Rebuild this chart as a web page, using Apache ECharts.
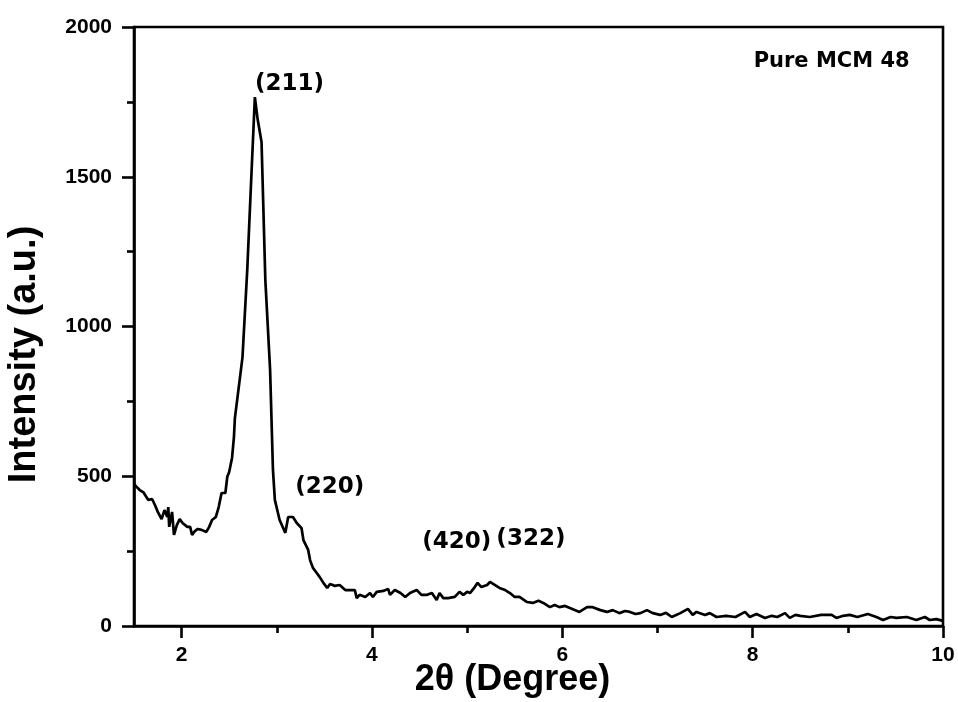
<!DOCTYPE html>
<html>
<head>
<meta charset="utf-8">
<script src="https://cdn.jsdelivr.net/npm/echarts@6/dist/echarts.min.js"></script>
<style>
  html, body { margin: 0; padding: 0; background: #fff; }
  #chart { width: 958px; height: 702px; }
</style>
</head>
<body>
<div id="chart"></div>
<script>
// XRD pattern of pure MCM-48: diffraction angle (2θ, degrees) and intensity (a.u.)
const twoTheta = [
  1.50, 1.52, 1.56, 1.60, 1.62, 1.65, 1.69, 1.72, 1.75, 1.79, 1.82, 1.85, 1.86, 1.87, 1.90, 1.92, 1.95, 1.98,
  2.01, 2.06, 2.09, 2.11, 2.14, 2.17, 2.21, 2.26, 2.29, 2.32, 2.36, 2.39, 2.42, 2.46, 2.48, 2.50, 2.53, 2.55,
  2.56, 2.58, 2.61, 2.64, 2.69, 2.73, 2.77, 2.80, 2.84, 2.88, 2.93, 2.96, 2.98,
  3.03, 3.09, 3.12, 3.17, 3.21, 3.23, 3.26, 3.28, 3.30, 3.33, 3.35, 3.38, 3.42, 3.45, 3.49, 3.53, 3.56, 3.61,
  3.66, 3.72, 3.77, 3.82, 3.84, 3.87, 3.93, 3.98,
  4.01, 4.05, 4.12, 4.17, 4.19, 4.24, 4.30, 4.35, 4.40, 4.47, 4.52, 4.58, 4.63, 4.68, 4.71, 4.75, 4.80, 4.87,
  4.92, 4.96, 5.00, 5.03, 5.08, 5.11, 5.15, 5.21, 5.24, 5.29, 5.34, 5.40, 5.45, 5.50, 5.55, 5.63, 5.69, 5.75,
  5.80, 5.87, 5.92, 5.97, 6.03, 6.08, 6.18, 6.26, 6.32, 6.40, 6.47, 6.53, 6.60, 6.66, 6.71, 6.77, 6.82, 6.89,
  6.95, 7.03, 7.09, 7.15, 7.24, 7.32, 7.37, 7.41, 7.50, 7.55, 7.62, 7.72, 7.82, 7.92, 7.97, 8.04, 8.13, 8.20,
  8.26, 8.34, 8.39, 8.45, 8.50, 8.60, 8.72, 8.83, 8.88, 8.95, 9.02, 9.10, 9.21, 9.30, 9.37, 9.45, 9.51, 9.62,
  9.72, 9.81, 9.86, 9.93, 10.00
];
const intensity = [
  475, 467, 454, 446, 444, 421, 424, 404, 381, 357, 387, 364, 397, 331, 381, 304, 337, 357,
  344, 331, 331, 304, 317, 324, 321, 314, 331, 354, 364, 397, 444, 444, 498, 514, 561, 631,
  694, 698, 821, 898, 1190, 1480, 1766, 1690, 1616, 1155, 855, 521, 421,
  354, 311, 364, 364, 344, 347, 327, 287, 290, 254, 220, 194, 177, 164, 144, 127, 140, 134,
  137, 120, 120, 120, 93, 104, 97, 110,
  97, 114, 117, 124, 104, 120, 110, 97, 110, 120, 104, 104, 110, 87, 110, 93, 93, 97,
  114, 104, 114, 110, 130, 144, 130, 137, 147, 137, 127, 120, 110, 97, 97, 80, 77, 84,
  77, 63, 70, 63, 67, 60, 47, 63, 63, 53, 47, 53, 43, 50, 47, 40, 43, 53,
  43, 37, 44, 30, 43, 57, 37, 47, 37, 43, 30, 34, 30, 47, 30, 40, 27, 34,
  30, 43, 27, 37, 34, 30, 37, 37, 27, 34, 37, 30, 40, 30, 20, 30, 27, 30,
  20, 30, 20, 23, 17
];

// Miller-index annotations and the sample caption, placed in data coordinates
const peakNames = ['(211)', '(220)', '(420)', '(322)'];
const peakLabelX = [3.135, 3.556, 4.89, 5.67];
const peakLabelY = [1810, 464, 280, 290];
const sampleName = 'Pure MCM 48';
const sampleX = 8.83;
const sampleY = 1885;

// Axis ticks
const xLabelValues = [2, 4, 6, 8, 10];
const xMinorValues = [3, 5, 7, 9];
const yTickLabels = ['0', '500', '1000', '1500', '2000'];

const FONT = "'Liberation Sans', Arial, sans-serif";
const WIDE = "'DejaVu Sans', sans-serif";
const lineData = twoTheta.map((x, i) => [x, intensity[i]]);
const annotations = peakNames.map((n, i) => ({ value: [peakLabelX[i], peakLabelY[i]], name: n }));
annotations.push({ value: [sampleX, sampleY], name: sampleName, label: { fontSize: 21 } });

const chart = echarts.init(document.getElementById('chart'), null, { renderer: 'canvas' });
chart.setOption({
  animation: false,
  backgroundColor: '#ffffff',
  grid: {
    left: 134, right: 15, top: 27, bottom: 76,
    containLabel: false, outerBoundsMode: 'none',
    show: true, borderColor: '#000', borderWidth: 2.6, backgroundColor: 'transparent'
  },
  xAxis: [
    {
      type: 'value', min: 1.5, max: 10,
      name: '2θ (Degree)', nameLocation: 'middle', nameGap: 36, nameMoveOverlap: false,
      nameTextStyle: {
        fontFamily: FONT, fontWeight: 'bold', fontSize: 36, lineHeight: 36, color: '#000',
        padding: [0, 52, 0, 0]
      },
      axisLine: { show: true, onZero: false, lineStyle: { color: '#000', width: 2.6 } },
      axisTick: { show: true, inside: false, length: 12, customValues: xLabelValues,
                  lineStyle: { color: '#000', width: 2.6 } },
      axisLabel: { show: true, customValues: xLabelValues, margin: 19,
                   fontFamily: FONT, fontWeight: 'bold', fontSize: 21, color: '#000',
                   showMinLabel: true, showMaxLabel: true },
      splitLine: { show: false }
    },
    {
      type: 'value', min: 1.5, max: 10, position: 'bottom',
      axisLine: { show: false, onZero: false },
      axisTick: { show: true, inside: false, length: 7, customValues: xMinorValues,
                  lineStyle: { color: '#000', width: 2.6 } },
      axisLabel: { show: false },
      splitLine: { show: false }
    }
  ],
  yAxis: {
    type: 'value', min: 0, max: 2000, interval: 500,
    name: 'Intensity (a.u.)', nameLocation: 'middle', nameGap: 90, nameMoveOverlap: false,
    nameTextStyle: { fontFamily: FONT, fontWeight: 'bold', fontSize: 38, color: '#000',
                     padding: [0, 56, 0, 0] },
    axisLine: { show: true, lineStyle: { color: '#000', width: 2.6 } },
    axisTick: { show: true, inside: false, length: 12, lineStyle: { color: '#000', width: 2.6 } },
    minorTick: { show: true, splitNumber: 2, length: 7, lineStyle: { color: '#000', width: 2.6 } },
    axisLabel: { margin: 22, fontFamily: FONT, fontWeight: 'bold', fontSize: 21, color: '#000',
                 formatter: (v) => yTickLabels[Math.round(v / 500)] },
    splitLine: { show: false }
  },
  series: [
    {
      type: 'line',
      data: lineData,
      xAxisIndex: 0,
      showSymbol: false,
      symbol: 'none',
      lineStyle: { color: '#000', width: 2.7 },
      z: 3
    },
    {
      type: 'scatter',
      data: annotations,
      xAxisIndex: 0,
      symbolSize: 0,
      silent: true,
      itemStyle: { opacity: 1 },
      label: {
        show: true, position: 'inside', formatter: (p) => p.name, opacity: 1,
        fontFamily: WIDE, fontWeight: 'bold', fontSize: 23, color: '#000'
      },
      z: 4
    }
  ]
});
</script>
</body>
</html>
